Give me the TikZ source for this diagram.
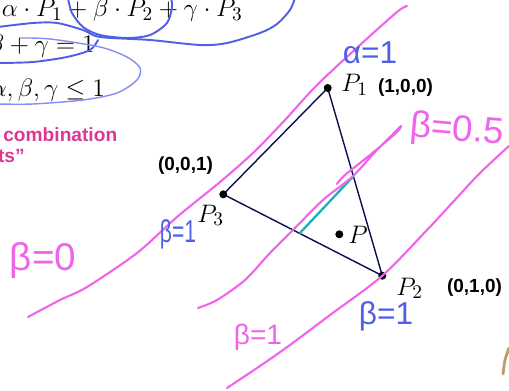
\documentclass[tikz,border=0pt]{standalone}
\usepackage{fontspec}
\usetikzlibrary{calc}
\newfontfamily\labelfont{Liberation Sans}
\definecolor{inkpink}{RGB}{240,100,235}
\definecolor{inkblue}{RGB}{80,95,230}
\definecolor{inklight}{RGB}{135,140,240}
\definecolor{edgenavy}{RGB}{10,15,80}
\definecolor{segcyan}{RGB}{20,180,180}
\definecolor{titlepink}{RGB}{220,55,145}
\definecolor{inkbrown}{RGB}{190,155,115}
\begin{document}
\begin{tikzpicture}[x=0.02cm,y=-0.02cm,
  pinkpen/.style={inkpink,line width=1.2pt,line cap=round,line join=round},
  bluepen/.style={inkblue,line width=1.1pt,line cap=round},
  edge/.style={edgenavy,line width=0.8pt},
  coordlabel/.style={font=\labelfont\bfseries\fontsize{10.8}{12}\selectfont,inner sep=0pt},
  formula/.style={font=\fontsize{15}{18}\selectfont,inner sep=0pt},
  titletext/.style={titlepink,font=\labelfont\bfseries\fontsize{10.9}{12}\selectfont,inner sep=0pt},
  note/.style={inner sep=0pt}]
\useasboundingbox (0,0) rectangle (509,391);
\clip (0,0) rectangle (509,391);

% formula lines
\node[formula,anchor=base east] (sum) at (243,17) {$\alpha\cdot P_1 + \beta\cdot P_2 + \gamma\cdot P_3$};
\node[formula,anchor=base east] (total) at (95,53) {$\beta+\gamma=1$};
\node[formula,anchor=base east] (range) at (105,97) {$\alpha,\beta,\gamma\le 1$};
\node[titletext,anchor=base west] (comb) at (3,142) {combination};
\node[titletext,anchor=base east] (pts) at (25,163) {ts”};

% triangle
\coordinate (p1) at (327.7,88);
\coordinate (p2) at (382.3,275.7);
\coordinate (p3) at (223.3,194.3);
\coordinate (p) at (339.3,234.3);
\coordinate (c1) at ($(p3)!0.48!(p2)$);
\coordinate (c2) at ($(p1)!0.47!(p2)$);
\draw[edge] (p1) -- (p2) -- (p3) -- cycle;
\draw[segcyan,line width=1.3pt] (c1) -- (c2);
\foreach \pt in {p1,p2,p3,p}
  \fill[black] (\pt) circle (4);
\node[formula,anchor=base west] (l1) at (341,92) {$P_1$};
\node[formula,anchor=base west] (l2) at (396,295) {$P_2$};
\node[formula,anchor=base west] (l3) at (197,222) {$P_3$};
\node[formula,anchor=base west] (lp) at (348,243) {$P$};
\node[coordlabel] (w1) at (405.5,88) {(1,0,0)};
\node[coordlabel] (w3) at (185.5,166) {(0,0,1)};
\node[coordlabel] (w2) at (474.5,288) {(0,1,0)};

% pink ink
\draw[pinkpen] plot[smooth] coordinates {(28,317) (60,300) (87,287) (137,253) (177,217) (220,182) (253,153) (285,120) (317,85) (360,45) (397,12) (407,6)};
\draw[pinkpen] plot[smooth] coordinates {(198,308) (217,300) (245,280) (270,253) (293,230) (323,200) (352,177) (375,152) (392,135) (401,126) (396,133) (370,155) (345,175) (337,184)};
\draw[pinkpen] plot[smooth] coordinates {(227,388) (260,366) (290,345) (330,315) (382,276) (427,230) (453,202) (480,173) (509,146)};
\node[note,inkpink,font=\labelfont\fontsize{22}{24}\selectfont] (b0) at (43,261) {β=0};
\node[note,inkpink,font=\labelfont\fontsize{16}{18}\selectfont] (b1) at (258,337) {β=1};
\node[note,inkpink,font=\labelfont\fontsize{21}{24}\selectfont,rotate=-5] (bh) at (457,131) {β=0.5};

% blue ink
\draw[bluepen] plot[smooth] coordinates {(68,-2) (72,13) (83,27) (100,35) (127,38) (150,35) (167,23) (172,7) (171,-2)};
\draw[bluepen] plot[smooth] coordinates {(-2,27) (33,23) (57,23) (83,30) (100,37) (150,40) (200,45) (227,43) (260,33) (277,24) (290,10) (295,-2)};
\draw[bluepen] plot[smooth] coordinates {(-2,63) (33,62) (67,57) (90,50) (98,40)};
\draw[inklight,line width=0.8pt] plot[smooth] coordinates {(20,38) (50,39) (100,47) (127,57) (140,68) (137,80) (117,93) (83,100) (33,104) (-2,104)};
\node[note,inkblue,font=\labelfont\fontsize{18}{20}\selectfont] (a1) at (370,53) {α=1};
\node[note,inkblue,font=\labelfont\fontsize{12}{14}\selectfont,yscale=1.5] (g1) at (178,234) {β=1};
\node[note,inkblue,font=\labelfont\fontsize{18}{20}\selectfont] (e1) at (386,316) {β=1};

% brown mark
\draw[inkbrown,line width=1.6pt,line cap=round] plot[smooth] coordinates {(503,374) (505,360) (509,348)};
\end{tikzpicture}
\end{document}
